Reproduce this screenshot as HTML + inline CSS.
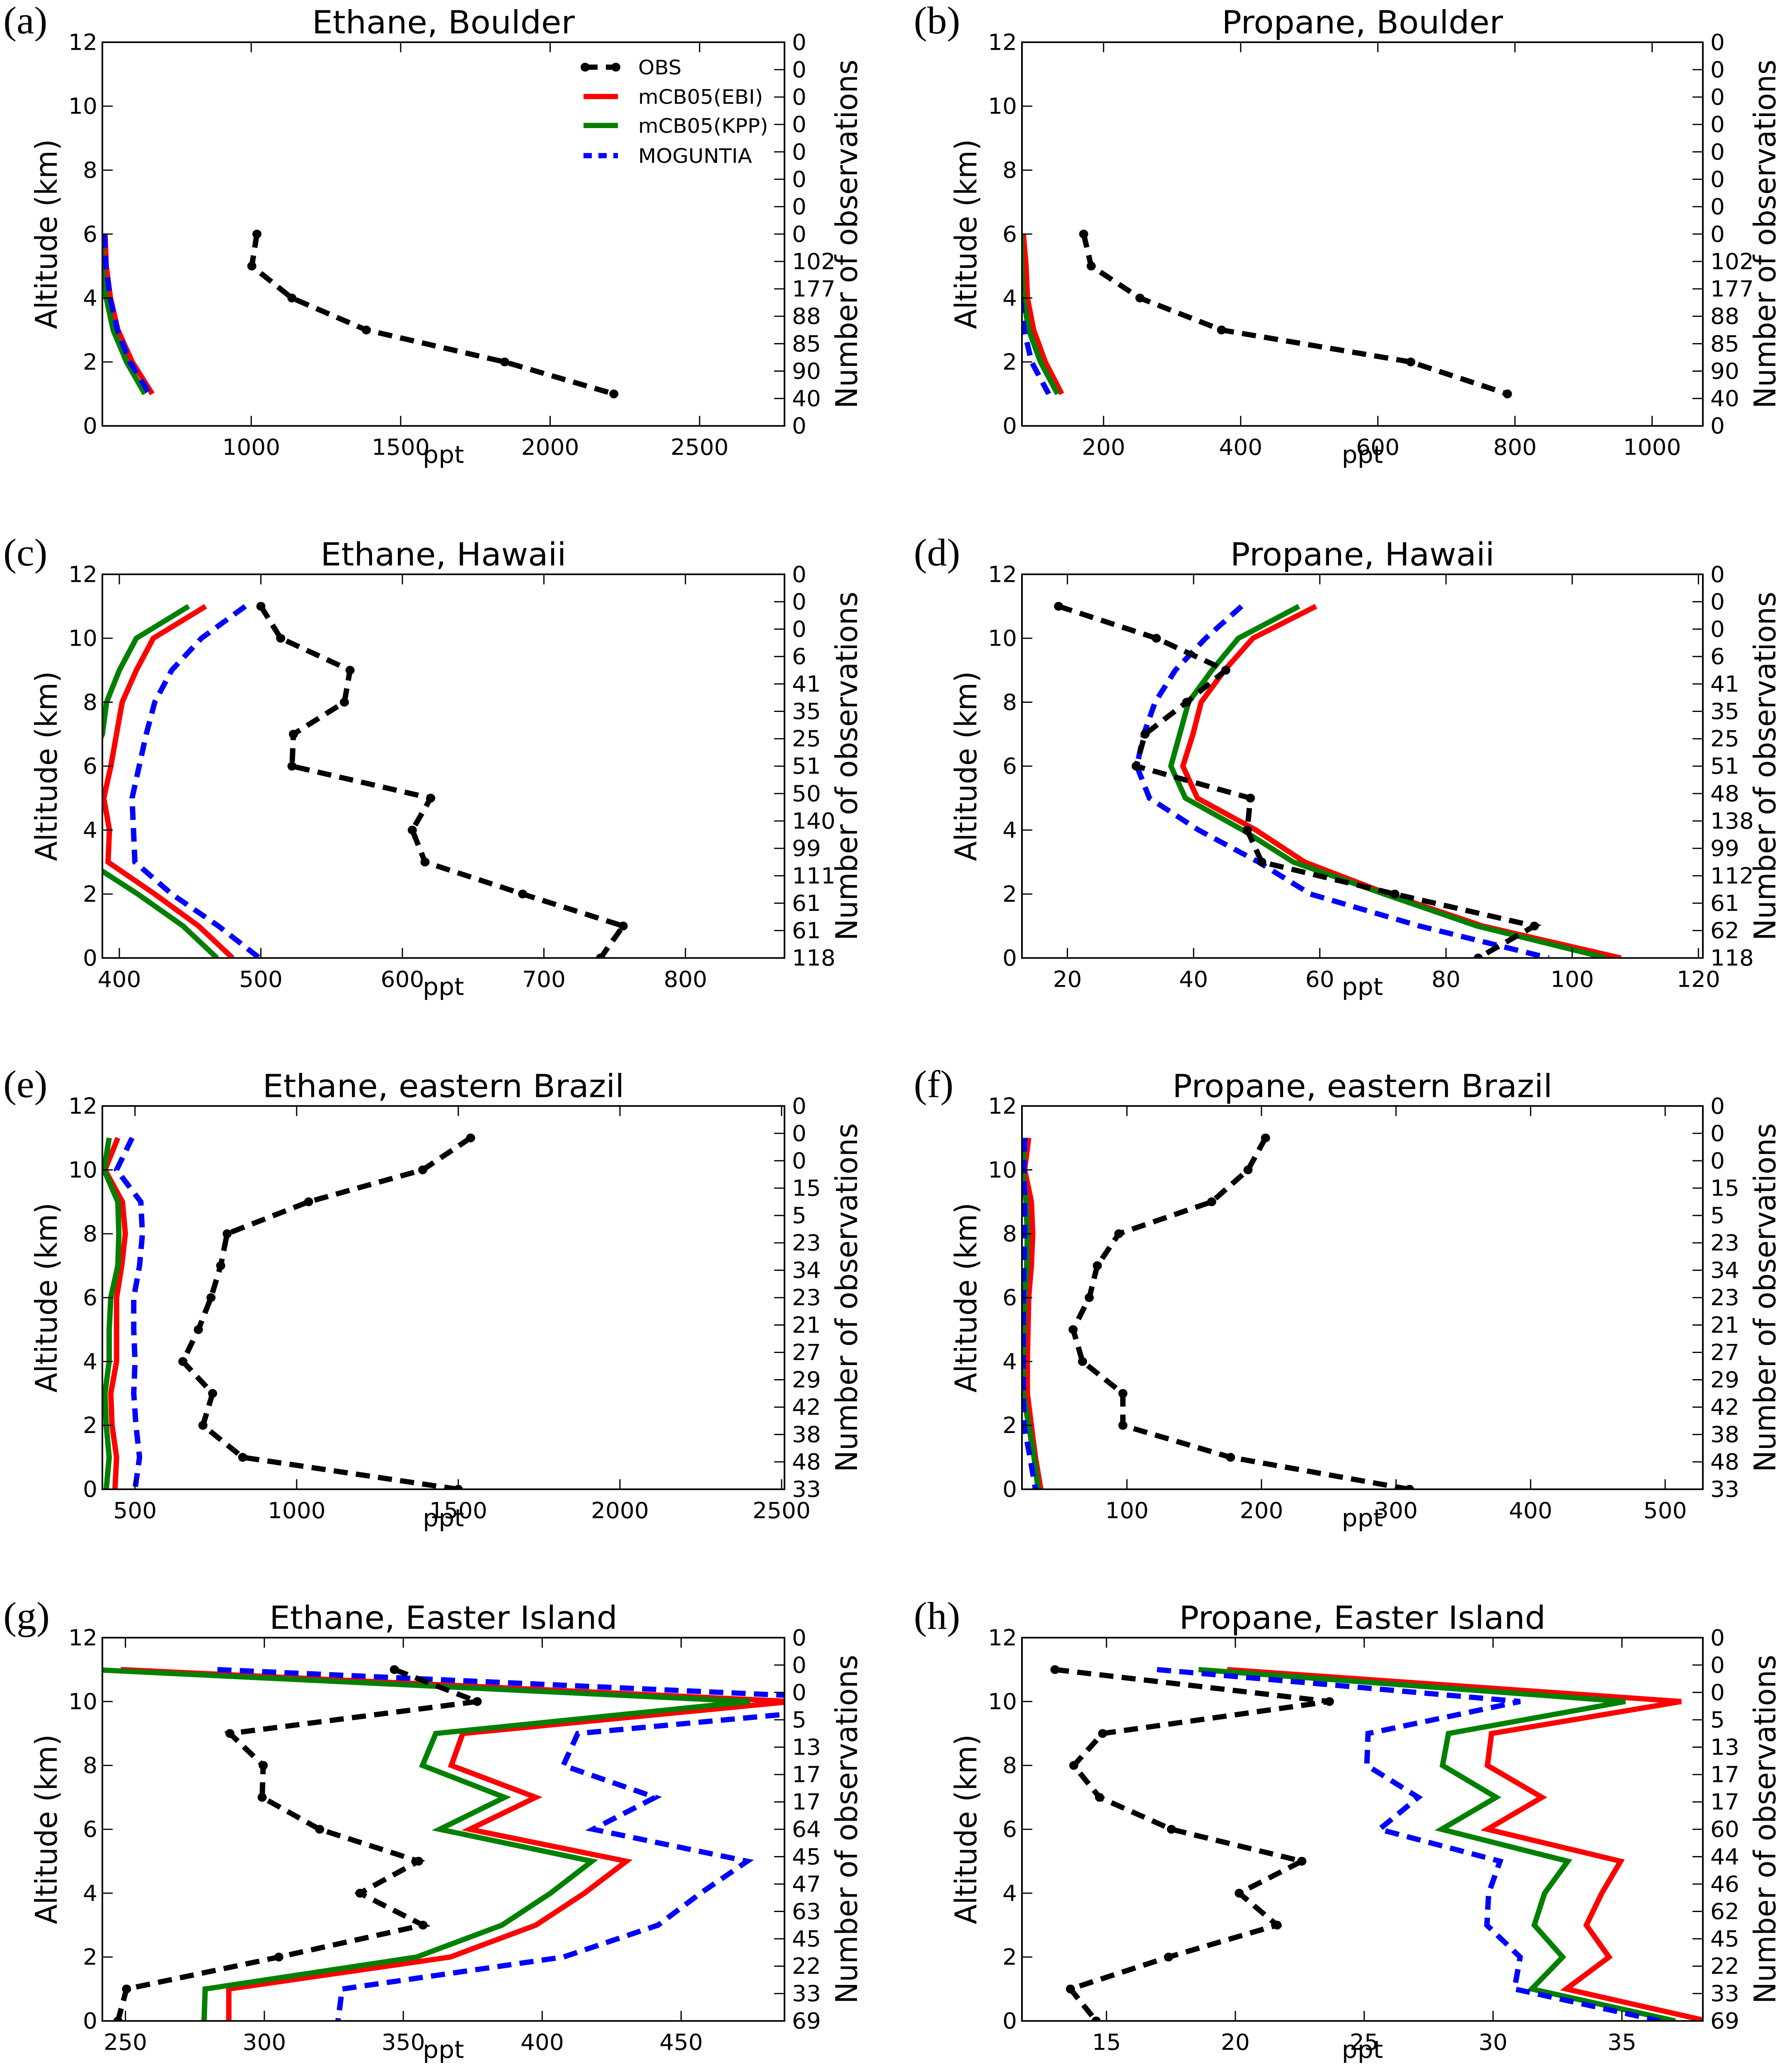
<!DOCTYPE html>
<html><head><meta charset="utf-8"><style>
html,body{margin:0;padding:0;background:#fff;width:100%;height:100%;overflow:hidden}
svg{display:block;overflow:hidden;width:100vw;height:100vh}
text{font-family:"DejaVu Sans","Liberation Sans",sans-serif}
</style></head><body>
<svg id="fig" xmlns="http://www.w3.org/2000/svg" viewBox="0 0 4300 5152" preserveAspectRatio="none"></svg>
<script>
// ---- data (altitudes in km, mixing ratios in ppt) ----
const altA = [6,5,4,3,2,1];
const obsA = [1019,1002,1136,1385,1848,2213];
const ebiA = [511,515,529,554,602,669];
const kppA = [500,502,515,538,583,644];
const mogA = [509,514,528,552,594,660];
const nobsA = ["0","40","90","85","88","177","102","0","0","0","0","0","0","0","0"];
const xtA = [1000,1500,2000,2500];

const altB = [6,5,4,3,2,1];
const obsB = [171,182,253,372,648,789];
const ebiB = [83,87,89,98,115,139];
const kppB = [80,80.5,83,91,108,133];
const mogB = [78,78,79,84,95,120];
const nobsB = ["0","40","90","85","88","177","102","0","0","0","0","0","0","0","0"];
const xtB = [200,400,600,800,1000];

const altC = [11,10,9,8,7,6,5,4,3,2,1,0];
const obsC = [500,514,563,559,523,522,620,607,616,685,756,740];
const ebiC = [461,424,412,402,398,394,389,393,392,425,456,480];
const kppC = [449,412,400,391,388,378,375,376,378,413,445,469];
const mogC = [489,458,437,425,419,414,409,410,411,437,470,499];
const nobsC = ["118","61","61","111","99","140","50","51","25","35","41","6","0","0","0"];
const xtC = [400,500,600,700,800];

const altD = [11,10,9,8,7,6,5,4,3,2,1,0];
const obsD = [18.6,34.1,45.1,38.9,32.3,30.9,49.0,48.5,50.8,71.9,94.0,85.1];
const ebiD = [59.4,49.4,44.9,41.2,39.9,38.3,40.6,49.9,57.6,70.8,85.8,107.7];
const kppD = [56.7,47.1,42.9,39.2,37.8,36.4,38.7,47.8,55.8,70.2,84.9,105.4];
const mogD = [47.6,41.9,37.1,33.9,32.1,31.0,33.0,40.8,50.3,58.5,75.8,96.3];
const nobsD = ["118","62","61","112","99","138","48","51","25","35","41","6","0","0","0"];
const xtD = [20,40,60,80,100,120];

const altE = [11,10,9,8,7,6,5,4,3,2,1,0];
const obsE = [1538,1390,1037,785,765,735,696,648,740,710,833,1500];
const ebiE = [447,407,461,470,459,443,443,443,425,429,443,438];
const kppE = [420,404,447,450,447,425,420,420,407,411,420,411];
const mogE = [491,443,518,523,514,496,496,500,496,503,514,500];
const nobsE = ["33","48","38","42","29","27","21","23","34","23","5","15","0","0","0"];
const xtE = [500,1000,1500,2000,2500];

const altF = [11,10,9,8,7,6,5,4,3,2,1,0];
const obsF = [203,190,163,94,78,72,60,67,97,97,177,310];
const ebiF = [27,24,29,30,29,27,26.5,26,26,29,32,36];
const kppF = [24,22.5,25,26,25.5,24,23.5,23,23,27,31,34];
const mogF = [24,23.5,24,24,23.5,23,23,23,23,23.5,28,32];
const nobsF = ["33","48","38","42","29","27","21","23","34","23","5","15","0","0","0"];
const xtF = [100,200,300,400,500];

const altG = [11,10,9,8,7,6,5,4,3,2,1,0];
const obsG = [346.8,376.6,287.6,299.6,299.2,319.9,355.5,334.4,357.1,305.2,250.4,247.3];
const ebiG = [248.3,490,371.4,367.3,397.7,373.9,430.3,415.2,397.7,366.9,287.2,287.2];
const kppG = [238,474.8,361.7,356.9,386.5,363.1,417.9,403,385.5,354.8,278.7,278.3];
const mogG = [283.1,537,412.8,407.6,440.7,418.3,473.8,457,441.7,407.6,328,326.5];
const nobsG = ["69","33","22","45","63","47","45","64","17","17","13","5","0","0","0"];
const xtG = [250,300,350,400,450];

const altH = [11,10,9,8,7,6,5,4,3,2,1,0];
const obsH = [13.0,23.65,14.85,13.73,14.73,17.52,22.58,20.15,21.62,17.41,13.6,14.6];
const ebiH = [19.68,37.3,29.94,29.78,31.9,29.78,34.95,34.22,33.62,34.5,32.84,38.3];
const kppH = [18.57,35.13,28.27,28.04,30.12,28.0,32.9,32.0,31.6,32.7,31.5,37.07];
const mogH = [16.96,31.05,25.15,25.1,27.1,25.59,30.27,29.83,29.76,31.05,30.83,36.47];
const nobsH = ["69","33","22","45","62","46","44","60","17","17","13","5","0","0","0"];
const xtH = [15,20,25,30,35];

// ---- layout ----
const NS = "http://www.w3.org/2000/svg";
const svg = document.getElementById('fig');
const COLS = [[247,1893],[2466,4109]];
const ROWS = [[105,1059],[1428,2382],[2750,3703],[4072,5025]];
const LETTERX = [8,2205];

function mk(tag, attrs, parent){
  const e = document.createElementNS(NS, tag);
  for (const k in attrs) e.setAttribute(k, attrs[k]);
  (parent||svg).appendChild(e);
  return e;
}

const panels = [
 {id:'a',col:0,row:0,title:'Ethane, Boulder',xmin:502,xmax:2784,xt:xtA,alt:altA,obs:obsA,ebi:ebiA,kpp:kppA,mog:mogA,nobs:nobsA,legend:true},
 {id:'b',col:1,row:0,title:'Propane, Boulder',xmin:81,xmax:1074,xt:xtB,alt:altB,obs:obsB,ebi:ebiB,kpp:kppB,mog:mogB,nobs:nobsB},
 {id:'c',col:0,row:1,title:'Ethane, Hawaii',xmin:388,xmax:870,xt:xtC,alt:altC,obs:obsC,ebi:ebiC,kpp:kppC,mog:mogC,nobs:nobsC},
 {id:'d',col:1,row:1,title:'Propane, Hawaii',xmin:12.8,xmax:120.7,xt:xtD,alt:altD,obs:obsD,ebi:ebiD,kpp:kppD,mog:mogD,nobs:nobsD},
 {id:'e',col:0,row:2,title:'Ethane, eastern Brazil',xmin:399,xmax:2509,xt:xtE,alt:altE,obs:obsE,ebi:ebiE,kpp:kppE,mog:mogE,nobs:nobsE},
 {id:'f',col:1,row:2,title:'Propane, eastern Brazil',xmin:22,xmax:528,xt:xtF,alt:altF,obs:obsF,ebi:ebiF,kpp:kppF,mog:mogF,nobs:nobsF},
 {id:'g',col:0,row:3,title:'Ethane, Easter Island',xmin:241.7,xmax:487.2,xt:xtG,alt:altG,obs:obsG,ebi:ebiG,kpp:kppG,mog:mogG,nobs:nobsG},
 {id:'h',col:1,row:3,title:'Propane, Easter Island',xmin:11.72,xmax:38.14,xt:xtH,alt:altH,obs:obsH,ebi:ebiH,kpp:kppH,mog:mogH,nobs:nobsH}
];

panels.forEach(p => {
  const [x0,x1] = COLS[p.col];
  const [y0,y1] = ROWS[p.row];
  const xs = v => x0 + (v - p.xmin) / (p.xmax - p.xmin) * (x1 - x0);
  const ys = a => y1 - a / 12 * (y1 - y0);

  const g = mk('g', {});
  
  

  const lt = mk('text', {x:LETTERX[p.col], y:y0-22, 'font-size':96, style:'font-family:"Liberation Serif",serif'}, g);
  lt.textContent = '(' + p.id + ')';
  
  

  const tt = mk('text', {x:(x0+x1)/2, y:y0-22, 'font-size':79, 'text-anchor':'middle'}, g);
  tt.textContent = p.title;
  
  

  const cid = 'clip' + p.id;
  const cp = mk('clipPath', {id:cid}, g);
  mk('rect', {x:x0, y:y0, width:x1-x0, height:y1-y0}, cp);
  const plot = mk('g', {'clip-path':'url(#'+cid+')'}, g);

  const pts = arr => arr.map((v,i) => xs(v).toFixed(1) + ',' + ys(p.alt[i]).toFixed(1)).join(' ');
  const series = [
    {arr:p.ebi, color:'#ff0000', dash:'', name:'series-mcb05-ebi'},
    {arr:p.kpp, color:'#008000', dash:'', name:'series-mcb05-kpp'},
    {arr:p.mog, color:'#0000ff', dash:'34 20', name:'series-moguntia'},
    {arr:p.obs, color:'#000000', dash:'34 20', name:'series-obs'}
  ];
  series.forEach(s => {
    const pl = mk('polyline', {points:pts(s.arr), fill:'none', stroke:s.color, 'stroke-width':13, 'stroke-linejoin':'miter'}, plot);
    if (s.dash) pl.setAttribute('stroke-dasharray', s.dash);
    
    
  });
  p.obs.forEach((v,i) => {
    const c = mk('circle', {cx:xs(v), cy:ys(p.alt[i]), r:11, fill:'#000'}, plot);
    
    
  });

  const fr = mk('rect', {x:x0, y:y0, width:x1-x0, height:y1-y0, fill:'none', stroke:'#000', 'stroke-width':4}, g);
  
  

  for (let a = 0; a <= 12; a += 2) {
    const y = ys(a);
    mk('line', {x1:x0, x2:x0+25, y1:y, y2:y, stroke:'#000', 'stroke-width':3}, g);
    const t = mk('text', {x:x0-12, y:y+19, 'font-size':55, 'text-anchor':'end'}, g);
    t.textContent = a;
    
    
  }
  p.nobs.forEach((lab, i) => {
    const y = y1 - i / 14 * (y1 - y0);
    mk('line', {x1:x1-25, x2:x1, y1:y, y2:y, stroke:'#000', 'stroke-width':3}, g);
    const t = mk('text', {x:x1+18, y:y+19, 'font-size':55}, g);
    t.textContent = lab;
    
    
  });
  p.xt.forEach(v => {
    const x = xs(v);
    mk('line', {x1:x, x2:x, y1:y1, y2:y1-25, stroke:'#000', 'stroke-width':3}, g);
    mk('line', {x1:x, x2:x, y1:y0, y2:y0+25, stroke:'#000', 'stroke-width':3}, g);
    const t = mk('text', {x:x, y:y1+72, 'font-size':55, 'text-anchor':'middle'}, g);
    t.textContent = v;
    
    
  });
  const xl = mk('text', {x:(x0+x1)/2, y:y1+92, 'font-size':60, 'text-anchor':'middle'}, g);
  xl.textContent = 'ppt';
  
  

  const ym = (y0+y1)/2;
  const yl = mk('text', {x:0, y:0, 'font-size':72, 'text-anchor':'middle', transform:'translate('+(x0-110)+','+ym+') rotate(-90)'}, g);
  yl.textContent = 'Altitude (km)';
  
  

  const rl = mk('text', {x:0, y:0, 'font-size':72, 'text-anchor':'middle', transform:'translate('+(x1+175)+','+ym+') rotate(-90)'}, g);
  rl.textContent = 'Number of observations';
  
  

  if (p.legend) {
    const lg = mk('g', {}, g);
    
    
    const items = [
      {label:'OBS', color:'#000', dash:'34 20', y:167, dot:true},
      {label:'mCB05(EBI)', color:'#ff0000', dash:'', y:240},
      {label:'mCB05(KPP)', color:'#008000', dash:'', y:312},
      {label:'MOGUNTIA', color:'#0000ff', dash:'20 16', y:387}
    ];
    items.forEach(it => {
      const e = mk('g', {}, lg);
      
      
      const l = mk('line', {x1:1408, x2:1491, y1:it.y, y2:it.y, stroke:it.color, 'stroke-width':13}, e);
      if (it.dash) l.setAttribute('stroke-dasharray', it.dash);
      if (it.dot) {
        mk('circle', {cx:1412, cy:it.y, r:11, fill:'#000'}, e);
        mk('circle', {cx:1486, cy:it.y, r:11, fill:'#000'}, e);
      }
      const t = mk('text', {x:1540, y:it.y+18, 'font-size':50}, e);
      t.textContent = it.label;
    });
  }
});
</script>
</body></html>
